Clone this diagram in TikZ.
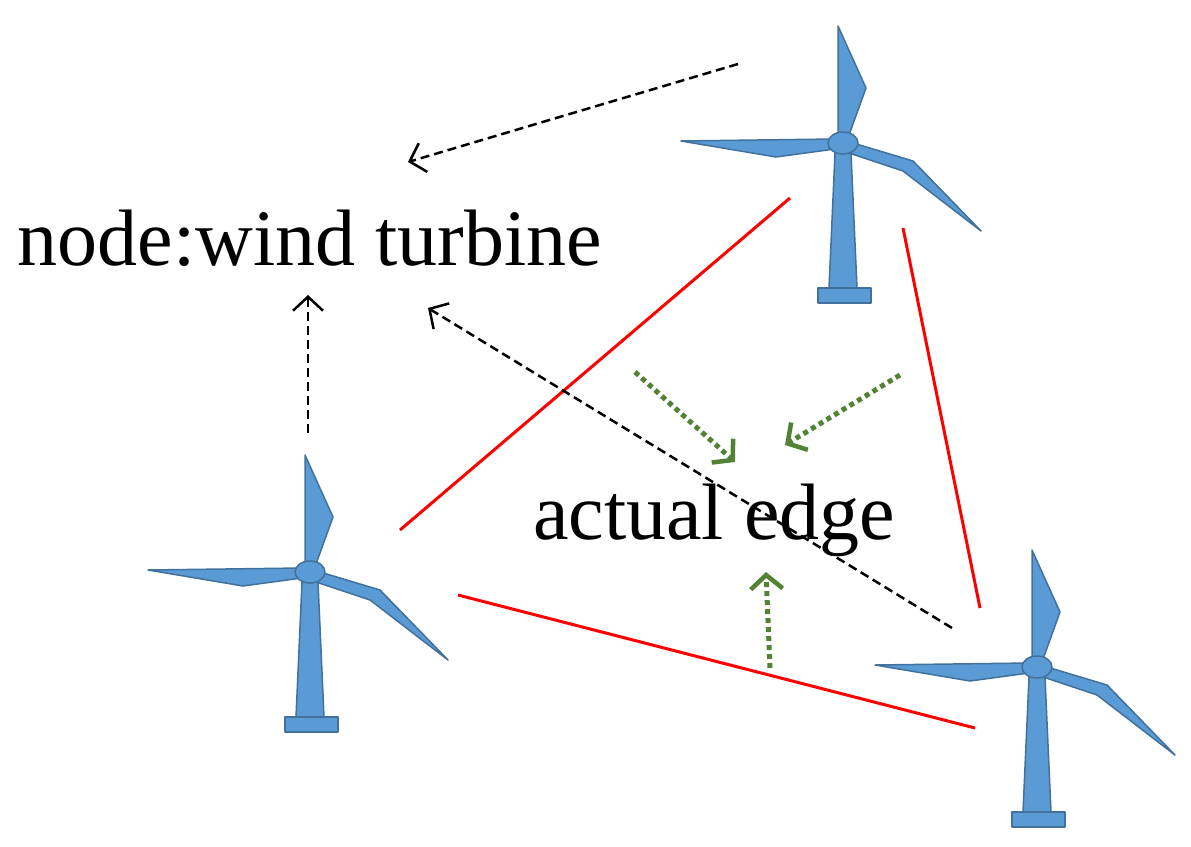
\documentclass[tikz,border=0pt]{standalone}
\usepackage{fontspec}
\setmainfont{Liberation Serif}
\usetikzlibrary{arrows.meta}
\definecolor{tb}{RGB}{91,155,213}
\definecolor{tbd}{RGB}{65,113,156}
\definecolor{gr}{RGB}{84,130,53}
\begin{document}
\begin{tikzpicture}[x=1pt,y=-1pt,
  red edge/.style={red,line width=3pt},
  blk/.style={black,dash pattern=on 9pt off 5pt,line width=2.5pt,-{Straight Barb[length=14pt,width=30pt,line width=2.5pt]}},
  grn/.style={gr,dash pattern=on 5pt off 4pt,line width=5pt,-{Straight Barb[length=14pt,width=32pt,line width=4.5pt]}},
  lbl/.style={font=\fontsize{80}{90}\selectfont,inner sep=0pt},
  turbine/.pic={
    \begin{scope}[fill=tb,draw=tbd,line width=1.5pt,line join=round]
    \filldraw (-8,10) -- (8,10) -- (14,145) -- (-14,145) -- cycle;
    \filldraw (-25,145) rectangle (28,160);
    \filldraw (-5,-5) -- (-5,-117) -- (23,-55) -- (6,-8) -- cycle;
    \filldraw (-8,-4) -- (-162,-2) -- (-67,14) -- (-8,6) -- cycle;
    \filldraw (10,0) -- (70,18) -- (138,88) -- (60,28) -- (6,10) -- cycle;
    \filldraw (0,0) ellipse (15 and 11);
    \end{scope}
  }]
\useasboundingbox (0,0) rectangle (1191,846);
\pic at (310,572) {turbine};
\pic at (843,143) {turbine};
\pic at (1037,667) {turbine};
\node[lbl] (nw) at (310,238) {node:wind turbine};
\node[lbl] (ae) at (714,520) {actual edge};
\coordinate (r1a) at (400,530); \coordinate (r1b) at (790,198);
\coordinate (r2a) at (458,595); \coordinate (r2b) at (975,728);
\coordinate (r3a) at (903,228); \coordinate (r3b) at (980,608);
\draw[red edge] (r1a) -- (r1b);
\draw[red edge] (r2a) -- (r2b);
\draw[red edge] (r3a) -- (r3b);
\coordinate (b1a) at (738,64); \coordinate (b1b) at (408,162);
\coordinate (b2a) at (308,433); \coordinate (b2b) at (308,295);
\coordinate (b3a) at (952,628); \coordinate (b3b) at (428,308);
\draw[blk] (b1a) -- (b1b);
\draw[blk] (b2a) -- (b2b);
\draw[blk] (b3a) -- (b3b);
\coordinate (g1a) at (635,372); \coordinate (g1b) at (735,462);
\coordinate (g2a) at (900,375); \coordinate (g2b) at (785,445);
\coordinate (g3a) at (770,668); \coordinate (g3b) at (766,572);
\draw[grn] (g1a) -- (g1b);
\draw[grn] (g2a) -- (g2b);
\draw[grn] (g3a) -- (g3b);
\end{tikzpicture}
\end{document}
